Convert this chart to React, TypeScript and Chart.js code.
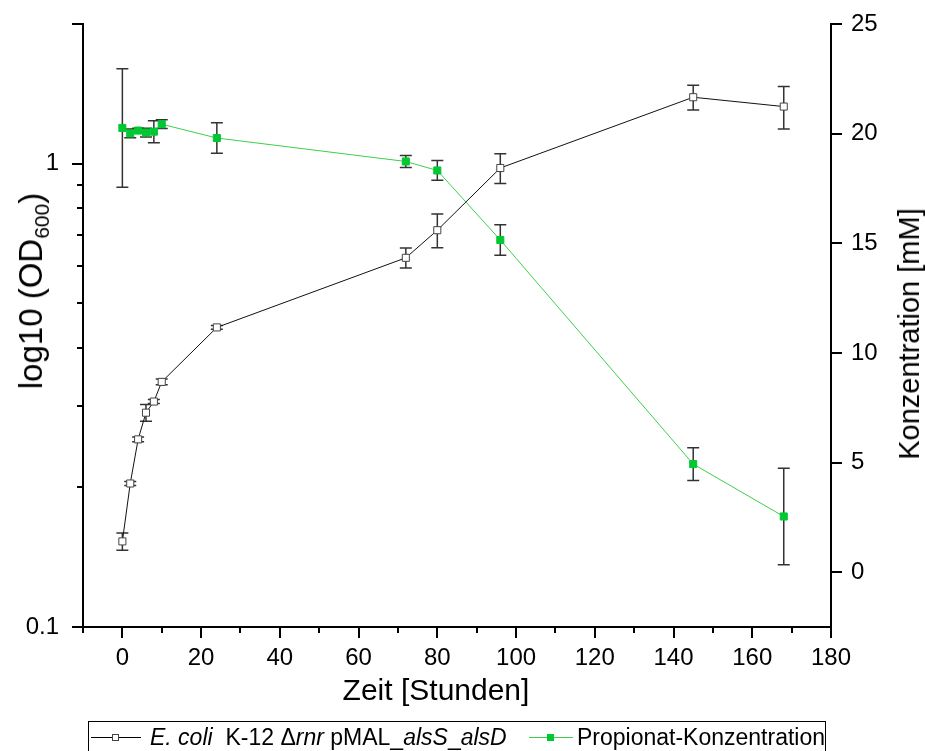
import React, { useEffect, useRef } from "react";
import { Chart, registerables } from "chart.js";

Chart.register(...registerables);

// ---- data ----
const hours = [0, 2, 4, 6, 8, 10, 24, 72, 80, 96, 145, 168];
const odMean = [0.153, 0.204, 0.254, 0.29, 0.3065, 0.338, 0.443, 0.626, 0.718, 0.978, 1.39, 1.327];
const odSd = [0.0065, 0.002, 0.003, 0.012, 0.003, 0.005, 0.004, 0.031, 0.06, 0.072, 0.086, 0.14];
const propMean = [20.26, 20.01, 20.14, 20.05, 20.09, 20.43, 19.8, 18.73, 18.32, 15.15, 4.93, 2.54];
const propSd = [2.7, 0.2, 0.1, 0.2, 0.5, 0.2, 0.7, 0.27, 0.45, 0.7, 0.75, 2.2];

const xMajorTicks = [0, 20, 40, 60, 80, 100, 120, 140, 160, 180];
const xMinorTicks = [-10, 10, 30, 50, 70, 90, 110, 130, 150, 170];
const yLogMajorTicks = [0.1, 1];
const yLogTickLabels = ["0.1", "1"];
const yLogMinorTicks = [0.2, 0.3, 0.4, 0.5, 0.6, 0.7, 0.8, 0.9];
const yLogEndTicks = [2];
const yRightTicks = [0, 5, 10, 15, 20, 25];

const FONT = "'Liberation Sans', Arial, sans-serif";
const GREEN_LINE = "#3ccf4a";
const GREEN_MARK = "#00c832";

const errorBarPlugin = {
  id: "errorBars",
  beforeDatasetsDraw(chart: any) {
    const ctx = chart.ctx;
    ctx.save();
    ctx.strokeStyle = "#333";
    ctx.lineWidth = 1.5;
    chart.data.datasets.forEach((ds: any) => {
      const ys = chart.scales[ds.yAxisID];
      const xs = chart.scales.x;
      ds.data.forEach((p: any, j: number) => {
        const e = ds.errors[j];
        const px = xs.getPixelForValue(p.x);
        const top = ys.getPixelForValue(p.y + e);
        const bot = ys.getPixelForValue(p.y - e);
        ctx.beginPath();
        ctx.moveTo(px, top);
        ctx.lineTo(px, bot);
        ctx.moveTo(px - 6, top);
        ctx.lineTo(px + 6, top);
        ctx.moveTo(px - 6, bot);
        ctx.lineTo(px + 6, bot);
        ctx.stroke();
      });
    });
    ctx.restore();
  },
};

const tickMarksPlugin = {
  id: "tickMarks",
  afterDraw(chart: any) {
    const ctx = chart.ctx;
    const { x, y, y1 } = chart.scales;
    const { bottom, left, right } = chart.chartArea;
    const MAJ = 11;
    const MIN = 6;
    ctx.save();
    ctx.strokeStyle = "#000";
    ctx.lineWidth = 2;
    ctx.beginPath();
    xMajorTicks.forEach((v) => {
      const p = Math.round(x.getPixelForValue(v));
      ctx.moveTo(p, bottom);
      ctx.lineTo(p, bottom + MAJ);
    });
    xMinorTicks.forEach((v) => {
      const p = Math.round(x.getPixelForValue(v));
      ctx.moveTo(p, bottom);
      ctx.lineTo(p, bottom + MIN);
    });
    [...yLogMajorTicks, ...yLogEndTicks].forEach((v) => {
      const p = Math.round(y.getPixelForValue(v));
      ctx.moveTo(left, p);
      ctx.lineTo(left - MAJ, p);
    });
    yLogMinorTicks.forEach((v) => {
      const p = Math.round(y.getPixelForValue(v));
      ctx.moveTo(left, p);
      ctx.lineTo(left - MIN, p);
    });
    yRightTicks.forEach((v) => {
      const p = Math.round(y1.getPixelForValue(v));
      ctx.moveTo(right, p);
      ctx.lineTo(right + MAJ, p);
    });
    ctx.stroke();
    ctx.restore();
  },
};

export default function App() {
  const ref = useRef<HTMLCanvasElement | null>(null);

  useEffect(() => {
    if (!ref.current) return;
    const tickFont = { family: FONT, size: 24 };
    const chart = new Chart(ref.current, {
      type: "line",
      data: {
        datasets: [
          {
            label: "E. coli K-12 Δrnr pMAL_alsS_alsD",
            data: hours.map((h, i) => ({ x: h, y: odMean[i] })),
            errors: odSd,
            yAxisID: "y",
            borderColor: "#111",
            borderWidth: 1,
            pointStyle: "rect",
            pointRadius: 5,
            pointBackgroundColor: "#fff",
            pointBorderColor: "#444",
            pointBorderWidth: 1,
            tension: 0,
          } as any,
          {
            label: "Propionat-Konzentration",
            data: hours.map((h, i) => ({ x: h, y: propMean[i] })),
            errors: propSd,
            yAxisID: "y1",
            borderColor: GREEN_LINE,
            borderWidth: 1,
            pointStyle: "rect",
            pointRadius: 5,
            pointBackgroundColor: GREEN_MARK,
            pointBorderColor: GREEN_MARK,
            pointBorderWidth: 1,
            tension: 0,
          } as any,
        ],
      },
      options: {
        animation: false,
        responsive: false,
        devicePixelRatio: 1,
        layout: { padding: { top: 24, left: 0, right: 0, bottom: 0 } },
        plugins: { legend: { display: false }, tooltip: { enabled: false }, title: { display: false } },
        scales: {
          x: {
            type: "linear",
            position: "bottom",
            min: -10,
            max: 180,
            grid: { display: false, drawTicks: false },
            border: { display: true, color: "#000", width: 2 },
            afterBuildTicks: (s: any) => {
              s.ticks = xMajorTicks.map((v) => ({ value: v }));
            },
            ticks: { font: tickFont, color: "#000", padding: 17, maxRotation: 0, autoSkip: false },
            afterFit: (s: any) => {
              s.height = 124;
              s.paddingLeft = 0;
              s.paddingRight = 0;
            },
          },
          y: {
            type: "logarithmic",
            position: "left",
            min: 0.1,
            max: 2,
            grid: { display: false, drawTicks: false },
            border: { display: true, color: "#000", width: 2 },
            afterBuildTicks: (s: any) => {
              s.ticks = yLogMajorTicks.map((v) => ({ value: v }));
            },
            ticks: {
              font: tickFont,
              color: "#000",
              padding: 24,
              autoSkip: false,
              callback: (v: any) => {
                const i = yLogMajorTicks.indexOf(Number(v));
                return i >= 0 ? yLogTickLabels[i] : "";
              },
            },
            afterFit: (s: any) => {
              s.width = 83;
              s.paddingTop = 0;
              s.paddingBottom = 0;
            },
          },
          y1: {
            type: "linear",
            position: "right",
            min: -2.5,
            max: 25,
            grid: { display: false, drawTicks: false },
            border: { display: true, color: "#000", width: 2 },
            afterBuildTicks: (s: any) => {
              s.ticks = yRightTicks.map((v) => ({ value: v }));
            },
            ticks: { font: tickFont, color: "#000", padding: 20, autoSkip: false },
            afterFit: (s: any) => {
              s.width = 94;
              s.paddingTop = 0;
              s.paddingBottom = 0;
            },
          },
        },
      } as any,
      plugins: [errorBarPlugin, tickMarksPlugin],
    });
    return () => chart.destroy();
  }, []);

  const titleStyle: React.CSSProperties = {
    position: "absolute",
    fontFamily: FONT,
    fontSize: 29,
    color: "#000",
    whiteSpace: "nowrap",
    lineHeight: "34px",
  };

  return (
    <div
      style={{
        position: "absolute",
        left: 0,
        top: 0,
        width: 925,
        height: 751,
        overflow: "hidden",
        background: "#fff",
      }}
    >
      <canvas ref={ref} width={925} height={751} style={{ width: 925, height: 751, display: "block" }} />
      <div
        style={{
          ...titleStyle,
          fontSize: 33,
          left: 31,
          top: 291,
          transform: "translate(-50%, -50%) rotate(-90deg)",
        }}
      >
        log10 (OD<sub style={{ fontSize: 21, verticalAlign: "-7px", lineHeight: 0 }}>600</sub>)
      </div>
      <div
        style={{
          ...titleStyle,
          left: 909,
          top: 334,
          transform: "translate(-50%, -50%) rotate(-90deg)",
        }}
      >
        Konzentration [mM]
      </div>
      <div
        style={{
          ...titleStyle,
          fontSize: 30,
          left: 436,
          top: 690,
          transform: "translate(-50%, -50%)",
        }}
      >
        Zeit [Stunden]
      </div>
      <div
        style={{
          position: "absolute",
          left: 88,
          top: 721,
          width: 738,
          height: 50,
          border: "1px solid #000",
          boxSizing: "border-box",
          fontFamily: FONT,
          fontSize: 23,
          color: "#000",
        }}
      >
        <div style={{ position: "absolute", left: 2, top: 15, width: 50, height: 1, background: "#000" }} />
        <div
          style={{
            position: "absolute",
            left: 23,
            top: 12,
            width: 7,
            height: 7,
            background: "#fff",
            border: "1px solid #444",
            boxSizing: "border-box",
          }}
        />
        <div style={{ position: "absolute", left: 61, top: 2, lineHeight: "26px", whiteSpace: "pre" }}>
          <i>E. coli</i>
          {"  K-12 Δ"}
          <i>rnr</i>
          {" pMAL_"}
          <i>alsS</i>
          {"_"}
          <i>alsD</i>
        </div>
        <div style={{ position: "absolute", left: 440, top: 15, width: 44, height: 1, background: GREEN_LINE }} />
        <div
          style={{
            position: "absolute",
            left: 458,
            top: 12,
            width: 7,
            height: 7,
            background: GREEN_MARK,
          }}
        />
        <div style={{ position: "absolute", left: 488, top: 2, lineHeight: "26px", whiteSpace: "pre" }}>
          Propionat-Konzentration
        </div>
      </div>
    </div>
  );
}
